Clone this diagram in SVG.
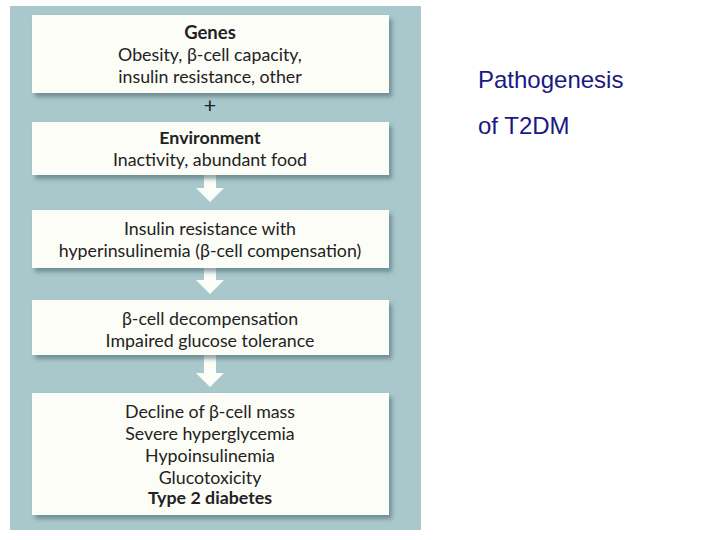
<svg xmlns="http://www.w3.org/2000/svg" width="720" height="540" viewBox="0 0 720 540">
<style>
.box{fill:#fdfdf8;filter:url(#sh)}
.t{font-family:Lato,"Open Sans",sans-serif;font-size:17.8px;fill:#222;text-anchor:middle}
.b{font-weight:bold}
.arr{fill:#fdfdf8}
</style>
<defs><filter id="sh" x="-5%" y="-10%" width="115%" height="140%"><feDropShadow dx="3" dy="4" stdDeviation="2" flood-color="#4a6a70" flood-opacity="0.6"/></filter></defs>
<rect width="720" height="540" fill="#fff"/>
<rect x="10" y="6" width="411" height="524" fill="#a9c8cc"/>
<g id="connectors">
<text x="210" y="113" class="t" style="font-size:22px">+</text>
<path class="arr" d="M204 175 H216 V188 H224 L210 202 L196 188 H204 Z"/>
<path class="arr" d="M204 268 H216 V280 H224 L210 294 L196 280 H204 Z"/>
<path class="arr" d="M204 355 H216 V373 H224 L210 387 L196 373 H204 Z"/>
</g>
<g id="genes"><rect class="box" x="32" y="15" width="357" height="78"/>
<text class="t b" x="210" y="39" style="font-size:18.5px">Genes</text>
<text class="t" x="210" y="61">Obesity, β-cell capacity,</text>
<text class="t" x="210" y="83">insulin resistance, other</text></g>
<g id="env"><rect class="box" x="32" y="122" width="357" height="53"/>
<text class="t b" x="210" y="144">Environment</text>
<text class="t" x="210" y="166">Inactivity, abundant food</text></g>
<g id="ir"><rect class="box" x="32" y="210" width="357" height="58"/>
<text class="t" x="210" y="235">Insulin resistance with</text>
<text class="t" x="210" y="257">hyperinsulinemia (β-cell compensation)</text></g>
<g id="decomp"><rect class="box" x="32" y="300" width="357" height="55"/>
<text class="t" x="210" y="325">β-cell decompensation</text>
<text class="t" x="210" y="347">Impaired glucose tolerance</text></g>
<g id="t2d"><rect class="box" x="32" y="393" width="357" height="122"/>
<text class="t" x="210" y="418">Decline of β-cell mass</text>
<text class="t" x="210" y="440">Severe hyperglycemia</text>
<text class="t" x="210" y="462">Hypoinsulinemia</text>
<text class="t" x="210" y="484">Glucotoxicity</text>
<text class="t b" x="210" y="504">Type 2 diabetes</text></g>
<g id="title"><text x="478" y="88" style="font-family:'Liberation Sans',Arial,sans-serif;font-size:24px;fill:#1a1a80">Pathogenesis</text>
<text x="478" y="134" style="font-family:'Liberation Sans',Arial,sans-serif;font-size:24px;fill:#1a1a80">of T2DM</text></g>
</svg>
